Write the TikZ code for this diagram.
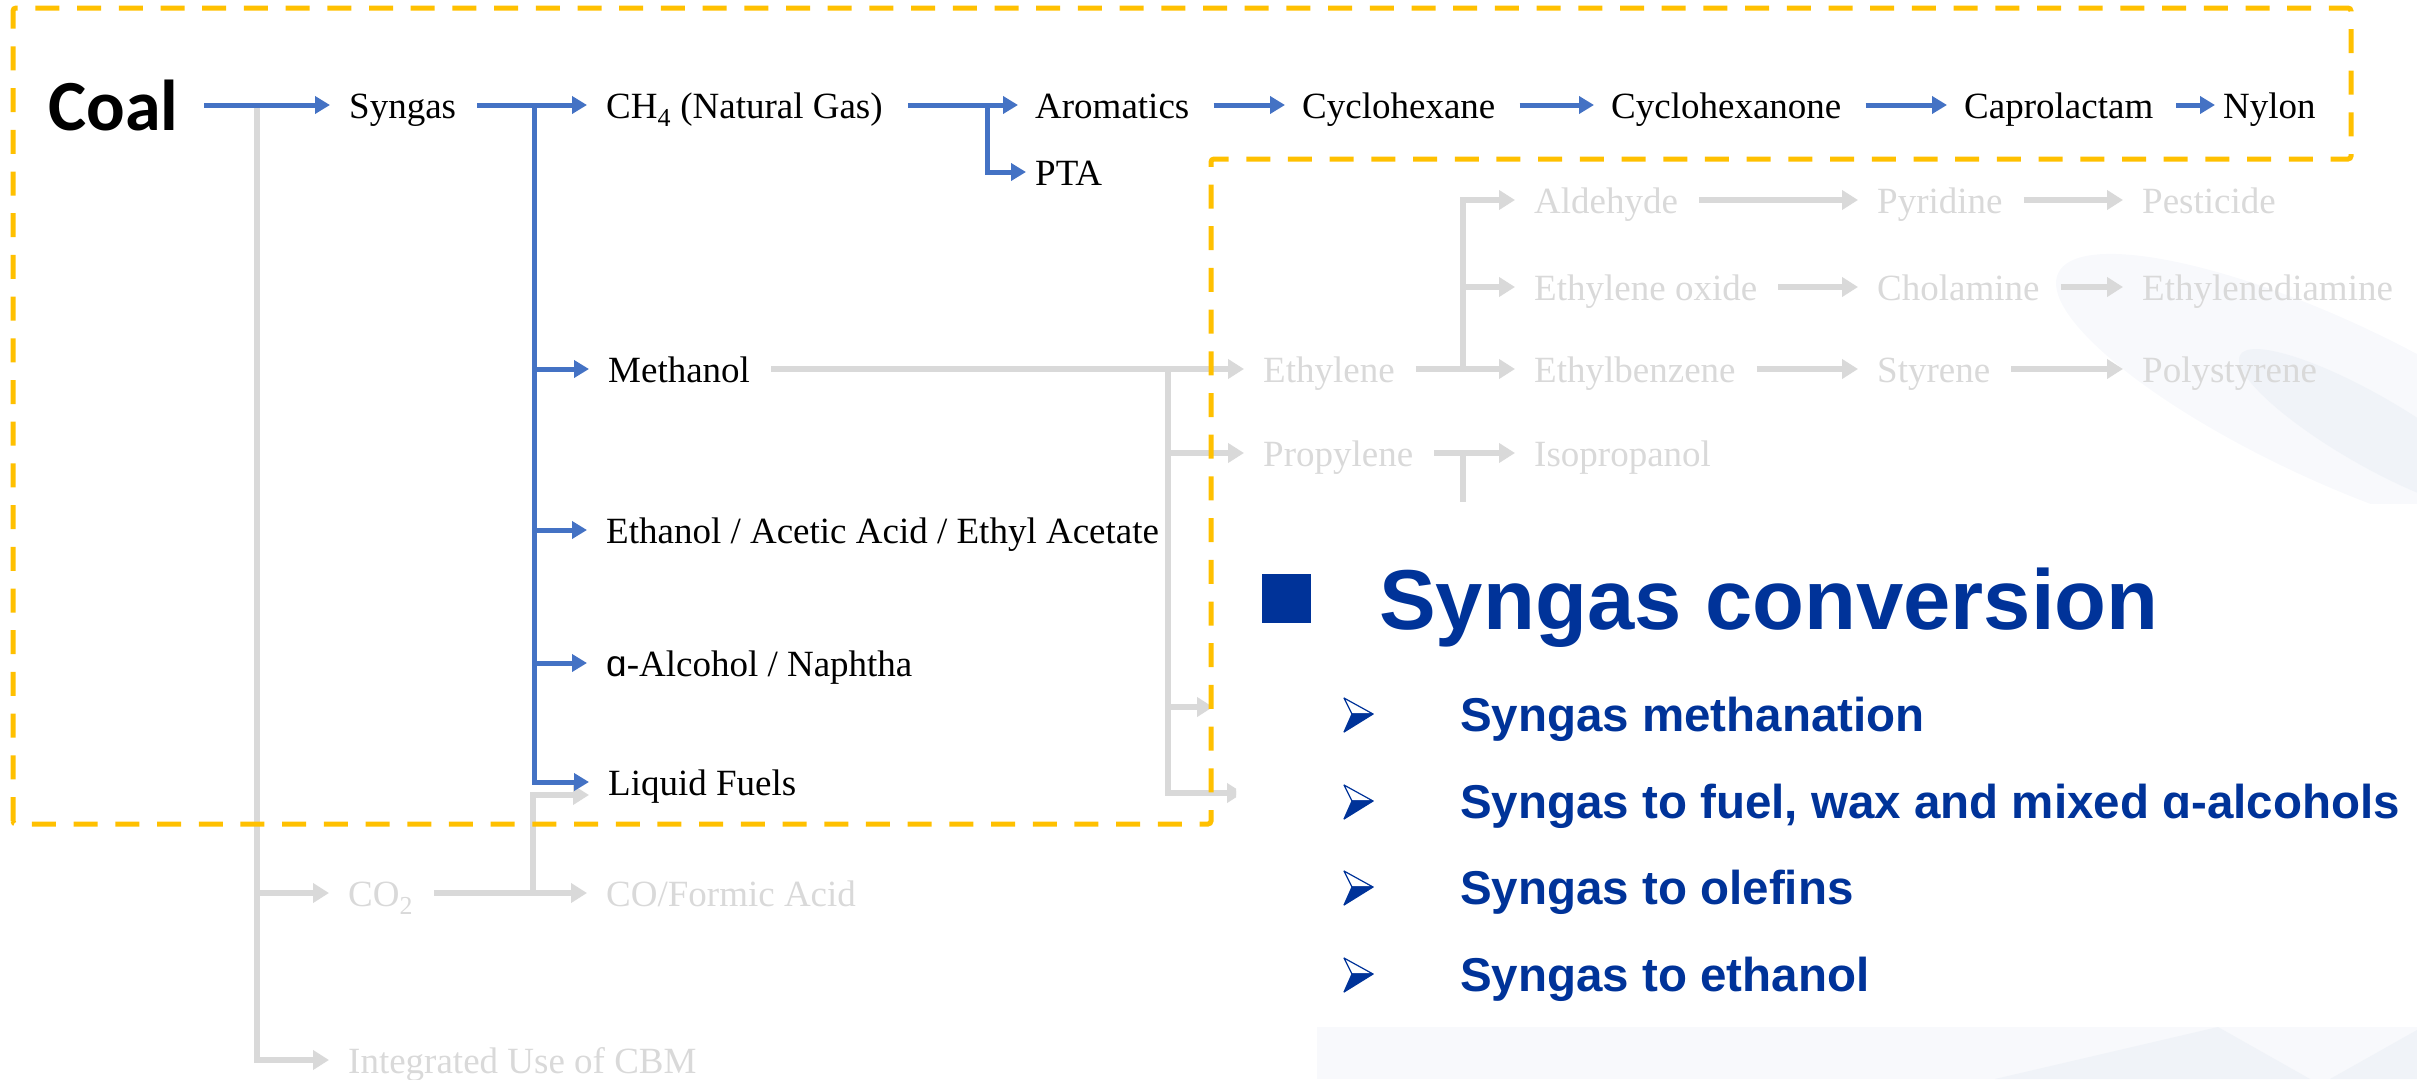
\documentclass[tikz,border=0pt]{standalone}
\usepackage{fontspec}
\setmainfont{Liberation Serif}
\newfontfamily\coalfont{Carlito}
\newfontfamily\headfont{Liberation Sans}
\usetikzlibrary{arrows.meta}

\definecolor{flowblue}{HTML}{4472C4}
\definecolor{fadegray}{HTML}{D9D9D9}
\definecolor{frameyellow}{HTML}{FFC000}
\definecolor{titleblue}{HTML}{003399}
\definecolor{wmlight}{RGB}{248,249,252}
\definecolor{wmdark}{RGB}{240,243,248}

\tikzset{
  lbl/.style={anchor=west, inner sep=0pt, font=\fontsize{37}{40}\selectfont,
              text height=30pt, text depth=4pt},
  dim/.style={lbl, text=fadegray},
  barr/.style={draw=flowblue, line width=5pt, -{Triangle[length=15pt,width=17pt]}},
  garr/.style={draw=fadegray, line width=6.5pt, -{Triangle[length=16pt,width=19pt]}},
  gline/.style={draw=fadegray, line width=6.5pt},
  fromnode/.style={shorten <=21pt},
  tonode/.style={shorten >=19pt},
  frame/.style={draw=frameyellow, line width=5pt, dash pattern=on 24pt off 17.7pt,
                rounded corners=3pt},
  item/.style={anchor=base west, inner sep=0pt, text=titleblue,
               font=\headfont\bfseries\fontsize{47.5}{50}\selectfont},
  arrowbullet/.pic={
    \filldraw[fill=white, draw=titleblue, line width=1.2pt, line join=round]
      (0,-16) -- (29,0) -- (8,0) -- cycle;
    \filldraw[fill=titleblue, draw=titleblue, line width=1.2pt, line join=round]
      (8,0) -- (29,0) -- (0,18) -- cycle;
  }
}

\begin{document}
\begin{tikzpicture}[x=1pt, y=-1pt]
\useasboundingbox (0,0) rectangle (2417,1079);

% faint watermark behind the right-hand panel
\begin{scope}
  \clip (1290,160) rectangle (2417,503);
  \fill[wmlight, rotate around={-25:(2330,400)}] (2330,400) ellipse (300 and 80);
  \fill[wmdark, rotate around={-30:(2370,430)}] (2370,430) ellipse (150 and 35);
\end{scope}
\fill[wmlight] (1317,1027) rectangle (2417,1079);
\fill[wmdark] (1995,1079) -- (2218,1027) -- (2310,1079) -- cycle;
\fill[wmdark] (2330,1079) -- (2417,1030) -- (2417,1079) -- cycle;

% ---- labels ----
\node[anchor=west, inner sep=0pt, font=\coalfont\bfseries\fontsize{72}{76}\selectfont,
      text height=50pt, text depth=0pt] (coal) at (48,105) {Coal};
\node[lbl] (syngas) at (349,105) {Syngas};
\node[lbl] (ch4) at (606,105) {CH\textsubscript{4} (Natural Gas)};
\node[lbl] (arom) at (1035,105) {Aromatics};
\node[lbl] (pta) at (1035,172) {PTA};
\node[lbl] (cyhex) at (1302,105) {Cyclohexane};
\node[lbl] (cyone) at (1611,105) {Cyclohexanone};
\node[lbl] (capro) at (1964,105) {Caprolactam};
\node[lbl] (nylon) at (2223,105) {Nylon};

\node[lbl] (methanol) at (608,369) {Methanol};
\node[lbl] (ethanol) at (606,530) {Ethanol / Acetic Acid / Ethyl Acetate};
\node[lbl] (alcohol) at (606,663) {{\headfont ɑ}-Alcohol / Naphtha};
\node[lbl] (liquid) at (608,782) {Liquid Fuels};

\node[dim] (co2) at (348,893) {CO\textsubscript{2}};
\node[dim] (coformic) at (606,893) {CO/Formic Acid};
\node[dim] (cbm) at (348,1060) {Integrated Use of CBM};

\node[dim] (ethylene) at (1263,369) {Ethylene};
\node[dim] (propylene) at (1263,453) {Propylene};
\node[dim] (aldehyde) at (1534,200) {Aldehyde};
\node[dim] (pyridine) at (1877,200) {Pyridine};
\node[dim] (pesticide) at (2142,200) {Pesticide};
\node[dim] (eo) at (1534,287) {Ethylene oxide};
\node[dim] (cholamine) at (1877,287) {Cholamine};
\node[dim] (eda) at (2142,287) {Ethylenediamine};
\node[dim] (ebz) at (1534,369) {Ethylbenzene};
\node[dim] (styrene) at (1877,369) {Styrene};
\node[dim] (pst) at (2142,369) {Polystyrene};
\node[dim] (isoprop) at (1534,453) {Isopropanol};

% ---- junction points ----
\coordinate (jcoal) at (257,105);
\coordinate (jsyn) at (534,105);
\coordinate (jch4) at (987,105);
\coordinate (jmeth) at (1168,369);
\coordinate (jeth) at (1463,369);
\coordinate (jprop) at (1463,453);
\coordinate (jco2) at (533,893);
\coordinate (pend) at (1463,502);
\coordinate (cut1) at (1213,707);
\coordinate (cut2) at (1243,793);

% ---- grey (inactive) routes ----
\draw[garr, tonode] (jcoal) |- (co2.west);
\draw[garr, tonode] (jcoal) |- (cbm.west);
\draw[garr, fromnode, tonode] (co2.east) -- (coformic.west);
\draw[garr, tonode] (jco2) |- ([yshift=-13pt]liquid.west);
\draw[garr, fromnode, tonode] (methanol.east) -- (ethylene.west);
\draw[garr, tonode] (jmeth) |- (propylene.west);
\draw[garr] (jmeth) |- (cut1);
\begin{scope}
  \clip (0,0) rectangle (1236,1079);
  \draw[garr] (jmeth) |- (cut2);
\end{scope}
\draw[garr, fromnode, tonode] (ethylene.east) -- (ebz.west);
\draw[garr, tonode] (jeth) |- (aldehyde.west);
\draw[garr, tonode] (jeth) |- (eo.west);
\draw[garr, fromnode, tonode] (aldehyde.east) -- (pyridine.west);
\draw[garr, fromnode, tonode] (pyridine.east) -- (pesticide.west);
\draw[garr, fromnode, tonode] (eo.east) -- (cholamine.west);
\draw[garr, fromnode, tonode] (cholamine.east) -- (eda.west);
\draw[garr, fromnode, tonode] (ebz.east) -- (styrene.west);
\draw[garr, fromnode, tonode] (styrene.east) -- (pst.west);
\draw[garr, fromnode, tonode] (propylene.east) -- (isoprop.west);
\draw[gline] (jprop) -- (pend);

% ---- blue (highlighted) routes ----
\draw[barr, shorten <=26pt, tonode] (coal.east) -- (syngas.west);
\draw[barr, fromnode, tonode] (syngas.east) -- (ch4.west);
\draw[barr, tonode] (jsyn) |- (methanol.west);
\draw[barr, tonode] (jsyn) |- (ethanol.west);
\draw[barr, tonode] (jsyn) |- (alcohol.west);
\draw[barr, tonode] (jsyn) |- (liquid.west);
\draw[barr, shorten <=25pt, shorten >=17pt] (ch4.east) -- (arom.west);
\draw[barr, shorten >=9pt] (jch4) |- (pta.west);
\draw[barr, shorten <=24pt, shorten >=17pt] (arom.east) -- (cyhex.west);
\draw[barr, shorten <=24pt, shorten >=17pt] (cyhex.east) -- (cyone.west);
\draw[barr, shorten <=24pt, shorten >=17pt] (cyone.east) -- (capro.west);
\draw[barr, shorten <=23pt, shorten >=8pt] (capro.east) -- (nylon.west);

% ---- highlighted region frame ----
\draw[frame] (13,824) -- (13,8) -- (2351,8) -- (2351,159) -- (1211,159) -- (1211,824) -- cycle;

% ---- right-hand panel ----
\node[fill=titleblue, inner sep=0pt, minimum size=49pt] (square) at (1286.5,598) {};
\node[anchor=base west, inner sep=0pt, text=titleblue,
      font=\headfont\bfseries\fontsize{85}{90}\selectfont] (title) at (1379,629) {Syngas conversion};

\pic at (1344,714) {arrowbullet};
\node[item] (i1) at (1460,731) {Syngas methanation};
\pic at (1344,801) {arrowbullet};
\node[item] (i2) at (1460,818) {Syngas to fuel, wax and mixed ɑ-alcohols};
\pic at (1344,887) {arrowbullet};
\node[item] (i3) at (1460,904) {Syngas to olefins};
\pic at (1344,974) {arrowbullet};
\node[item] (i4) at (1460,991) {Syngas to ethanol};
\end{tikzpicture}
\end{document}
